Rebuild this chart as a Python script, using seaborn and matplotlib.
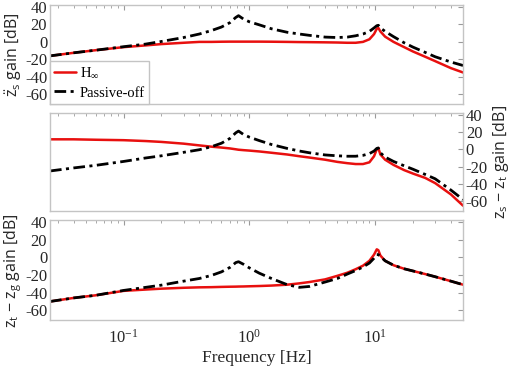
import matplotlib
matplotlib.use("Agg")
import matplotlib.pyplot as plt
import seaborn as sns
import numpy as np
from matplotlib.ticker import LogLocator, NullFormatter, FixedLocator

# ---------------- data ----------------
freq = [0.026, 0.04, 0.06, 0.1, 0.15, 0.2, 0.3, 0.4, 0.5, 0.6, 0.7, 0.78, 0.82,
        0.9, 1.0, 1.2, 1.5, 2.0, 2.5, 3.0, 4.0, 5.0, 6.0, 7.0, 8.0, 9.0, 9.8,
        10.3, 10.6, 11.0, 12, 14, 17, 20, 25, 30, 40, 50]

# top panel: sprung-mass acceleration gain
acc_hinf = [-16, -12.5, -9.5, -6, -4, -2.5, -1, 0, 0, 0.2, 0.3, 0.3, 0.3,
            0.3, 0.3, 0.3, 0.2, 0, -0.2, -0.3, -0.5, -0.7, -1, -1, 0, 3, 9,
            15, 16, 12, 6, 0, -6, -11, -17, -22, -30, -35]
acc_pass = [-16, -12.5, -9.5, -5.5, -2.5, 0.5, 5, 9, 13, 17, 22, 28, 30,
            26, 23, 19.5, 15, 11, 9, 7.5, 5.5, 5, 5.5, 7, 9, 12, 16,
            18.5, 19, 16, 12, 6, -1, -6, -12, -17, -23, -27]

# middle panel: suspension deflection gain
def_hinf = [11.5, 11.5, 11, 10.5, 9.5, 8.5, 6.5, 4.5, 3, 2, 1, 0, -0.5,
            -1, -1.5, -2.5, -4, -6, -8, -9.5, -12, -14.5, -16, -17, -17, -15, -8,
            0, 1.5, -6, -12, -18, -24, -28, -33, -39, -52, -65]
def_pass = [-25, -21.5, -18.5, -14, -10, -7.5, -3.5, -0.5, 3, 7, 12.5, 19, 21,
            17, 14, 10, 5.5, 1, -2, -4, -6.5, -7.5, -8, -8, -7, -5, -2,
            1, 1.5, -4, -9, -14, -19, -23, -29, -34, -47, -58]

# bottom panel: tyre deflection gain
tyre_hinf = [-50, -46, -43, -38, -36.5, -35.5, -34.5, -34, -33.8, -33.5, -33.3, -33.2, -33.1,
             -33, -32.8, -32.5, -32, -31, -29.5, -28, -25, -21, -17.5, -13.5, -9.5, -4, 3,
             9, 8, 2, -4, -9, -13, -15.5, -19, -22, -27, -31]
tyre_pass = [-50, -46, -43, -37.5, -34, -31.5, -27, -24, -20.5, -16.5, -11.5, -6, -5,
             -8, -12, -18, -24, -31, -34, -33, -28, -24, -19, -15, -11, -6.5, -1,
             3, 3, 1, -4, -9, -13, -15.5, -19, -22, -27, -31]

labels = ["H$_{\\infty}$", "Passive-off"]

# ---------------- style ----------------
sns.set_theme(style="white")
plt.rcParams["font.family"] = ["Liberation Serif", "DejaVu Serif"]
plt.rcParams["axes.unicode_minus"] = False
plt.rcParams["mathtext.fontset"] = "custom"
plt.rcParams["mathtext.rm"] = "Liberation Serif"
plt.rcParams["mathtext.it"] = "Liberation Serif:italic"
plt.rcParams["mathtext.sf"] = "Open Sans"

frame_col = "#c4c4c4"
tick_col = "#262626"
red = "#e8100f"
dashdot = (0, (4.2, 1.6, 1.1, 1.6))
lab_font = dict(family=["Open Sans", "DejaVu Sans"], fontsize=11.5, color=tick_col)

fig = plt.figure(figsize=(5.1, 3.7), dpi=100)
left, width = 0.098, 0.810
ax1 = fig.add_axes([left, 0.719, width, 0.267])
ax2 = fig.add_axes([left, 0.430, width, 0.265])
ax3 = fig.add_axes([left, 0.135, width, 0.270])

panels = [
    (ax1, acc_hinf, acc_pass),
    (ax2, def_hinf, def_pass),
    (ax3, tyre_hinf, tyre_pass),
]

for ax, yh, yp in panels:
    sns.lineplot(x=freq, y=yh, ax=ax, color=red, lw=1.8, label=labels[0],
                 legend=False)
    sns.lineplot(x=freq, y=yp, ax=ax, color="black", lw=2.0,
                 linestyle=dashdot, label=labels[1], legend=False)
    ax.set_xscale("log")
    ax.set_xlim(0.026, 50)
    ax.set_ylim(-71, 42)
    ax.yaxis.set_major_locator(FixedLocator([-60, -40, -20, 0, 20, 40]))
    ax.xaxis.set_major_locator(LogLocator(base=10))
    ax.xaxis.set_minor_locator(LogLocator(base=10, subs=np.arange(2, 10)))
    ax.xaxis.set_minor_formatter(NullFormatter())
    for s in ax.spines.values():
        s.set_color(frame_col)
        s.set_linewidth(1.0)
    ax.tick_params(which="both", direction="in", top=True, right=True,
                   color="#9a9a9a", labelsize=12, labelcolor=tick_col, pad=2)
    ax.tick_params(which="major", length=3.5, width=0.8)
    ax.tick_params(which="minor", length=2, width=0.6)
    ax.tick_params(axis="x", which="major", pad=6)
    ax.set_xlabel("")
    ax.set_ylabel("")

ax1.tick_params(labelbottom=False)
ax2.tick_params(labelbottom=False, labelleft=False, labelright=True)
ax3.set_xlabel("Frequency [Hz]", fontsize=12.5, color=tick_col, labelpad=3)

ax1.set_ylabel(r"$\ddot{\mathsf{z}}_\mathsf{s}$ gain [dB]", labelpad=1, **lab_font)
ax2.yaxis.set_label_position("right")
ax2.set_ylabel(r"$\mathsf{z_s}$ − $\mathsf{z_t}$ gain [dB]", rotation=90,
               labelpad=2, **lab_font)
ax3.set_ylabel(r"$\mathsf{z_t}$ − $\mathsf{z_g}$ gain [dB]", labelpad=1, **lab_font)

leg = ax1.legend(loc="lower left", bbox_to_anchor=(0.0, 0.0),
                 borderaxespad=0.0, frameon=True, fancybox=False,
                 edgecolor=frame_col, framealpha=1, fontsize=10.5,
                 handlelength=1.5, handletextpad=0.25, borderpad=0.3,
                 labelspacing=0.45)
leg.get_frame().set_linewidth(1.0)
for t in leg.get_texts():
    t.set_color("black")

fig.savefig("out.png", dpi=100)
